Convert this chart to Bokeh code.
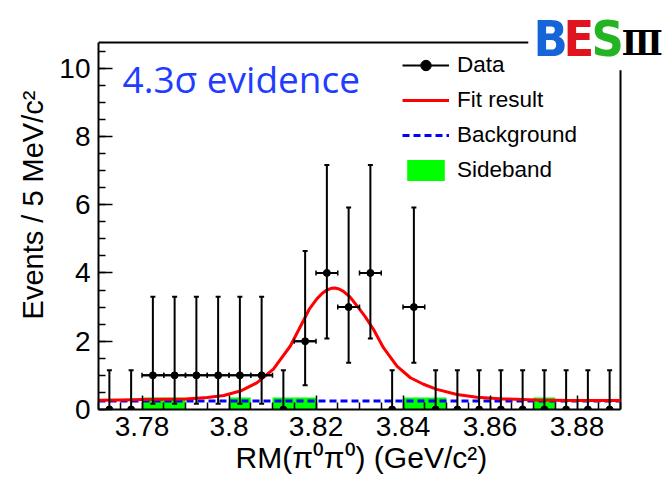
from bokeh.plotting import figure
from bokeh.models import (Range1d, FixedTicker, Whisker, TeeHead, ColumnDataSource,
                          Legend, LegendItem, Label, Title)
from bokeh.embed import file_html
from bokeh.resources import INLINE

# ---------------- data ----------------
bin_centers = [3.7725, 3.7775, 3.7825, 3.7875, 3.7925, 3.7975, 3.8025, 3.8075,
               3.8125, 3.8175, 3.8225, 3.8275, 3.8325, 3.8375, 3.8425, 3.8475,
               3.8525, 3.8575, 3.8625, 3.8675, 3.8725, 3.8775, 3.8825, 3.8875]
bin_half_width = 0.0025
counts = [0, 0, 1, 1, 1, 1, 1, 1, 0, 2, 4, 3, 4, 0, 3, 0, 0, 0, 0, 0, 0, 0, 0, 0]
err_low = [0, 0, 0.17, 0.17, 0.17, 0.17, 0.17, 0.17, 0, 0.71, 2.08, 1.37, 2.08, 0,
           1.37, 0, 0, 0, 0, 0, 0, 0, 0, 0]
err_high = [1.15, 1.15, 3.30, 3.30, 3.30, 3.30, 3.30, 3.30, 1.15, 4.64, 7.16, 5.92,
            7.16, 1.15, 5.92, 1.15, 1.15, 1.15, 1.15, 1.15, 1.15, 1.15, 1.15, 1.15]
sideband = [0, 0, 0.35, 0.35, 0, 0, 0.35, 0, 0.35, 0.35, 0, 0, 0, 0, 0.35, 0.35,
            0, 0, 0, 0, 0.35, 0, 0, 0]

fit_x = [3.7700, 3.7750, 3.7800, 3.7850, 3.7900, 3.7950, 3.7988, 3.8026, 3.8064,
         3.8102, 3.8141, 3.8171, 3.8185, 3.8202, 3.8214, 3.8225, 3.8235, 3.8244,
         3.8253, 3.8263, 3.8278, 3.8294, 3.8313, 3.8332, 3.8355, 3.8386, 3.8417,
         3.8447, 3.8478, 3.8524, 3.8570, 3.8631, 3.8708, 3.8784, 3.8900]
fit_y = [0.27, 0.28, 0.29, 0.30, 0.31, 0.35, 0.41, 0.54, 0.78,
         1.18, 1.86, 2.60, 2.95, 3.24, 3.40, 3.50, 3.55, 3.56,
         3.53, 3.46, 3.30, 3.04, 2.72, 2.35, 1.81, 1.27, 0.93,
         0.74, 0.59, 0.44, 0.36, 0.31, 0.28, 0.26, 0.26]

bkg_x = [3.77, 3.89]
bkg_y = [0.25, 0.25]

x_tick_values = [3.78, 3.80, 3.82, 3.84, 3.86, 3.88]
x_tick_labels = ["3.78", "3.8", "3.82", "3.84", "3.86", "3.88"]
y_tick_values = [0, 2, 4, 6, 8, 10]
y_tick_labels = ["0", "2", "4", "6", "8", "10"]

legend_labels = ["Data", "Fit result", "Background", "Sideband"]
x_title = "RM(\u03c0\u2070\u03c0\u2070) (GeV/c\u00b2)"
y_title = "Events / 5 MeV/c\u00b2"
note_text = "4.3\u03c3 evidence"

# ---------------- axis ranges ----------------
X_LO, X_HI = 3.77, 3.89      # drawn axis extent
Y_LO, Y_HI = 0.0, 10.75
# the plotting area is extended to the page's top/right edge so that the
# logo (which overlaps the frame corner) can be drawn; axes keep their bounds
X_VIEW_HI = X_HI + (X_HI - X_LO) * 44 / 522
Y_VIEW_HI = Y_HI * 409 / 367

FONT = "Liberation Sans"
p = figure(width=664, height=483, output_backend="svg", toolbar_location=None,
           x_range=Range1d(X_LO, X_VIEW_HI), y_range=Range1d(Y_LO, Y_VIEW_HI),
           min_border_left=98, min_border_right=0, min_border_top=0,
           min_border_bottom=74)
p.grid.visible = False
p.outline_line_color = None
p.background_fill_color = "white"
p.border_fill_color = "white"

# axes
x_minor = [X_LO + 0.005 * i for i in range(25)]
y_minor = [0.5 * i for i in range(22)]
p.xaxis.ticker = FixedTicker(ticks=x_tick_values, minor_ticks=x_minor)
p.xaxis.major_label_overrides = dict(zip(x_tick_values, x_tick_labels))
p.yaxis.ticker = FixedTicker(ticks=y_tick_values, minor_ticks=y_minor)
p.yaxis.major_label_overrides = dict(zip(y_tick_values, y_tick_labels))
p.xaxis.bounds = (X_LO, X_HI)
p.yaxis.bounds = (Y_LO, Y_HI)
for ax in (p.xaxis, p.yaxis):
    ax.axis_line_width = 2
    ax.axis_line_color = "black"
    ax.major_tick_in = 14
    ax.major_tick_out = 0
    ax.minor_tick_in = 7
    ax.minor_tick_out = 0
    ax.major_tick_line_width = 1.5
    ax.minor_tick_line_width = 1.5
    ax.major_tick_line_color = "black"
    ax.minor_tick_line_color = "black"
    ax.major_label_text_font = FONT
    ax.major_label_text_font_size = "28px"
    ax.major_label_text_color = "black"
p.xaxis.major_label_standoff = 7
p.yaxis.major_label_standoff = 8

# axis titles (side-panel titles, centred on the drawn axes)
p.add_layout(Title(text=x_title, align="left", offset=137, text_font=FONT,
                   text_font_size="30px", text_font_style="normal",
                   text_color="black", standoff=0), "below")
p.add_layout(Title(text=y_title, align="center", offset=-15, text_font=FONT,
                   text_font_size="29px", text_font_style="normal",
                   text_color="black", standoff=15), "left")

# frame top and right edges (interrupted by the logo, as in the reference)
p.segment(x0=[X_LO], y0=[Y_HI], x1=[3.8688], y1=[Y_HI], line_color="black", line_width=2)
p.segment(x0=[X_HI], y0=[Y_LO], x1=[X_HI], y1=[9.94], line_color="black", line_width=2)

# ---------------- glyphs ----------------
src = ColumnDataSource(dict(
    x=bin_centers, y=counts, lo=err_low, hi=err_high, sb=sideband,
    left=[c - bin_half_width for c in bin_centers],
    right=[c + bin_half_width for c in bin_centers],
))
nz = [i for i, c in enumerate(counts) if c > 0]
src_nz = ColumnDataSource(dict(
    x=[bin_centers[i] for i in nz], y=[counts[i] for i in nz],
    left=[bin_centers[i] - bin_half_width for i in nz],
    right=[bin_centers[i] + bin_half_width for i in nz],
))

sb_r = p.quad(left="left", right="right", bottom=0, top="sb", source=src,
              fill_color="#00ff00", line_color=None)
bkg_r = p.line(bkg_x, bkg_y, line_color="#0000ff", line_width=3, line_dash="7 4")
fit_r = p.line(fit_x, fit_y, line_color="#ff0000", line_width=3)

hseg = p.segment(x0="left", y0="y", x1="right", y1="y", source=src_nz,
                 line_color="black", line_width=2)
vw = Whisker(source=src, base="x", lower="lo", upper="hi", dimension="height",
             line_color="black", line_width=2, level="annotation",
             upper_head=TeeHead(size=5, line_width=2, line_color="black"),
             lower_head=TeeHead(size=5, line_width=2, line_color="black"))
hw = Whisker(source=src_nz, base="y", lower="left", upper="right", dimension="width",
             line_color="black", line_width=2, level="annotation",
             upper_head=TeeHead(size=5, line_width=1.5, line_color="black"),
             lower_head=TeeHead(size=5, line_width=1.5, line_color="black"))
p.add_layout(vw)
p.add_layout(hw)
pts = p.scatter("x", "y", source=src, marker="circle", size=7,
                fill_color="black", line_color="black")

# ---------------- legend ----------------
legend = Legend(items=[
    LegendItem(label=legend_labels[0], renderers=[hseg, pts]),
    LegendItem(label=legend_labels[1], renderers=[fit_r]),
    LegendItem(label=legend_labels[2], renderers=[bkg_r]),
    LegendItem(label=legend_labels[3], renderers=[sb_r]),
], location=(304, 226), orientation="vertical", border_line_color=None,
    background_fill_alpha=0, padding=0, margin=0, glyph_width=47, glyph_height=26,
    label_height=26, spacing=9, label_standoff=8, label_text_font=FONT,
    label_text_font_size="22.5px", label_text_color="black")
p.add_layout(legend)

# ---------------- texts ----------------
p.add_layout(Label(x=24, y=331, x_units="screen", y_units="screen", text=note_text,
                   text_font="Open Sans", text_font_size="37px", text_color="#1f3cff",
                   text_align="left", text_baseline="alphabetic"))

# BESIII logo
logo = [("B", "#1565d8", 435, 371, 50, "DejaVu Sans Condensed"),
        ("E", "#e0141e", 465, 371, 50, "DejaVu Sans Condensed"),
        ("S", "#22b422", 493, 371, 50, "DejaVu Sans Condensed"),
        ("\u2162", "black", 523, 367, 34, "DejaVu Serif")]
for ch, col, xx, yy, sz, fnt in logo:
    p.add_layout(Label(x=xx, y=yy, x_units="screen", y_units="screen", text=ch,
                       text_font=fnt, text_font_size=f"{sz}px", text_font_style="bold",
                       text_color=col, text_align="left", text_baseline="alphabetic"))

open("out.html", "w").write(file_html(p, INLINE))
